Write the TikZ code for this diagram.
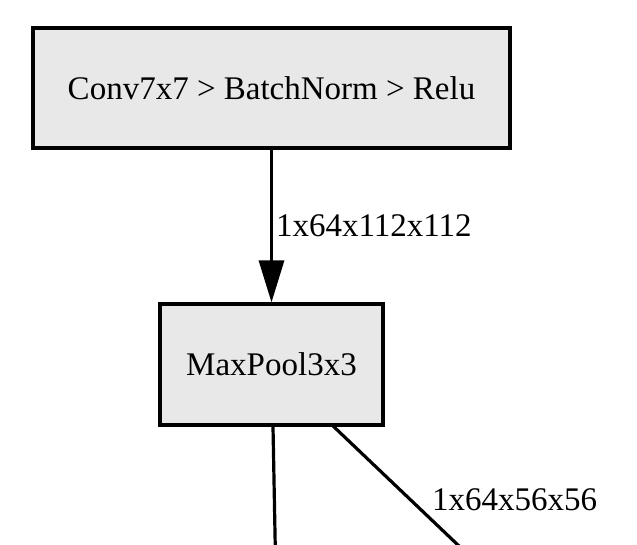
\documentclass[tikz,border=0pt]{standalone}
\usepackage{fontspec}
\setmainfont{Liberation Serif}
\usetikzlibrary{arrows.meta}
\definecolor{boxfill}{HTML}{E8E8E8}
\begin{document}
\begin{tikzpicture}[x=1pt,y=-1pt,
  layer/.style={draw=black,line width=3.2pt,fill=boxfill,inner sep=0pt,font=\fontsize{33}{39}\selectfont},
  edge/.style={line width=3.2pt,draw=black},
  elabel/.style={font=\fontsize{33}{39}\selectfont,inner sep=0pt,anchor=west}]
\useasboundingbox (0,0) rectangle (637,545);
\fill[white] (0,0) rectangle (637,545);
\node[layer,minimum width=477pt,minimum height=120pt] (conv) at (271.5,88) {Conv7x7 > BatchNorm > Relu};
\node[layer,minimum width=223pt,minimum height=121pt] (pool) at (271.5,364.5) {MaxPool3x3};
\draw[edge,-{Triangle[length=42pt,width=25pt]}] (conv.south) -- (pool.north)
  node[elabel,midway,xshift=3pt,yshift=0pt] (l1) {1x64x112x112};
\coordinate (e1) at (275.5,560);
\coordinate (e2) at (473.7,560);
\draw[edge] ([xshift=1.5pt]pool.south) -- (e1);
\draw[edge] (332,425) coordinate (s2) -- (e2);
\node[elabel] (l2) at (432,500) {1x64x56x56};
\end{tikzpicture}
\end{document}
